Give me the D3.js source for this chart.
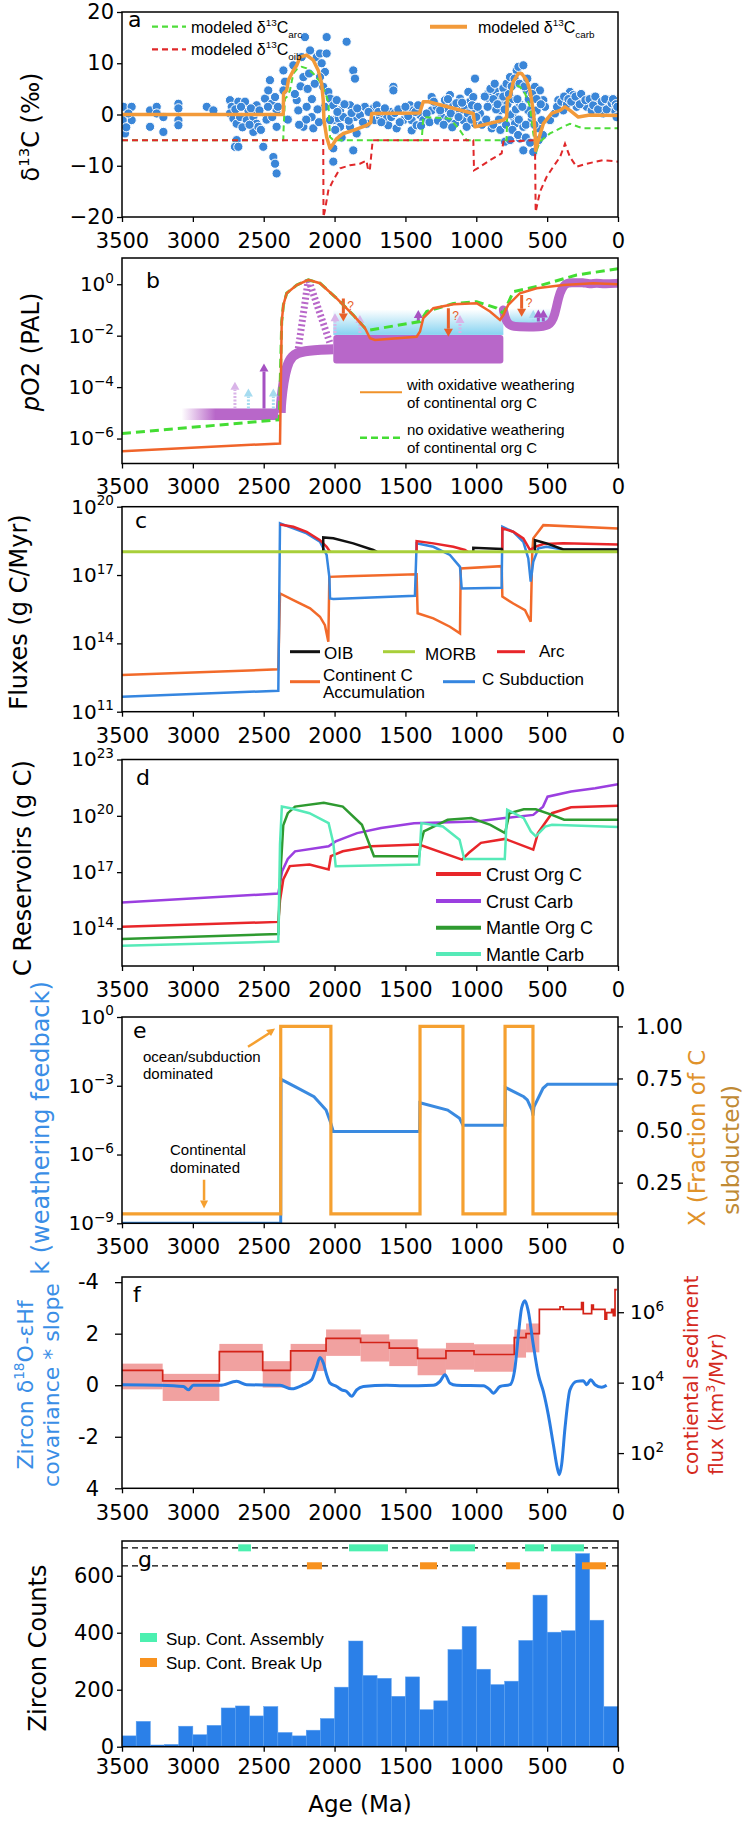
<!DOCTYPE html>
<html>
<head>
<meta charset="utf-8">
<title>Carbon cycle - 7 panels</title>
<script src="https://cdnjs.cloudflare.com/ajax/libs/d3/7.8.5/d3.min.js"></script>
<style>
  body { margin: 0; background: #fff; }
  svg text { font-family: "DejaVu Sans", sans-serif; }
  .tick text { font-size: 21px; fill: #000; }
  .logax .tick text { font-size: 20px; }
  .tick line { stroke: #000; stroke-width: 1.3; }
  .domain { display: none; }
  .leg { font-family: "Liberation Sans", Arial, sans-serif; }
</style>
</head>
<body>
<svg id="fig" width="743" height="1822"></svg>
<script>
// ---------------- data ----------------
var xTicks = [3500, 3000, 2500, 2000, 1500, 1000, 500, 0];

// a: measured d13C carb [age Ma, permil]
var d13cObs = [
 [3490,1.5],[3432,1.5],[3432,-1.1],[3495,-1.1],[3479,-3.7],[3455,0.2],[3470,-2.5],[3302,0.8],[3302,-2.4],[3255,1.5],
 [3255,0.2],[3208,-0.5],[3208,-3.4],[3102,2.1],[3102,1.2],[3102,-1.1],[3102,-2.1],[2902,1.5],[2855,0.8],[2738,2.8],
 [2726,1.5],[2738,0.2],[2714,-0.8],[2691,-1.8],[2691,-5],[2703,-6.3],[2679,-6.3],[2679,2.5],[2632,2.5],[2608,0.8],
 [2667,-0.5],[2620,-1.1],[2573,-0.5],[2550,1.8],[2561,0.5],[2550,-1.8],[2573,-3.4],[2538,-2.4],[2503,-6.3],[2491,3.1],
 [2456,6.7],[2468,4.7],[2444,2.1],[2420,3.4],[2409,0.8],[2409,-2.4],[2432,-8.3],[2420,-9.6],[2409,-11.5],[2361,8.6],
 [2350,6.4],[2361,4.7],[2291,9.6],[2267,2.8],[2256,0.8],[2232,11.2],[2209,15.1],[2220,7.3],[2220,-2.4],[2197,1.5],
 [2173,12.5],[2162,-0.5],[2150,-2.7],[2126,11.2],[2103,11.9],[2091,10],[2056,15.1],[2056,11.9],[2068,8.3],[2103,7.3],
 [2080,5.4],[2044,4.4],[2032,3.1],[2068,1.5],[2009,1.8],[1985,2.8],[1961,0.8],[2009,-1.1],[1973,-0.8],[1938,-0.5],
 [1891,1.8],[1915,14.2],[1868,8.6],[1856,7],[1856,-0.5],[1821,-0.1],[1786,1.5],[2009,-6.6],[2009,-9.2],[2032,-1.1],
 [1961,-2.4],[1891,-2.4],[1844,-3.7],[1774,-1.8],[1868,-7],[2280,4],[2240,5.5],[2190,5],[2160,3],[2140,6],
 [2120,1],[2110,-1.5],[2200,-1],[2250,-2],[2180,8],[2330,-1],
 [1726,1.2],[1703,1.8],[1715,-1.1],[1679,-0.5],[1656,0.8],[1632,-0.8],[1609,0.5],[1621,-2.1],[1585,5.4],[1585,4.7],
 [1562,-2.7],[1527,0.8],[1515,-1.1],[1491,0.2],[1468,1.8],[1456,-1.1],[1456,-3.1],[1444,0.8],[1421,-2.1],[1397,-0.1],
 [1374,-1.1],[1315,3.4],[1315,0.8],[1280,1.5],[1244,-0.5],[1221,2.8],[1209,1.2],[1197,-0.8],[1186,3.8],[1162,1.8],
 [1150,-1.8],[1138,0.2],[1115,3.1],[1115,0.8],[1091,-1.1],[1080,1.5],[1068,-2.4],[1056,4.4],[1044,2.5],[1021,3.4],
 [1021,0.8],[1009,7],[1009,-1.8],[974,0.2],[891,-2.7],[915,4.1],[903,2.8],[891,1.8],[868,4.7],[844,3.4],
 [833,0.8],[821,2.1],[809,5.1],[786,6],[797,-5.3],[762,-5],[762,7.3],[739,-0.5],[715,8.6],[727,-1.8],
 [703,9.3],[692,-4.7],[668,9.6],[668,-2.4],[668,-7],[645,4.7],[633,0.8],[621,2.8],[609,-1.1],[598,-7.3],
 [586,5.4],[574,0.8],[562,-2.7],[551,4.7],[539,-1.1],[527,2.8],[515,1.5],[480,-1.1],[445,0.2],[421,2.8],
 [386,0.8],[339,4.4],[315,3.8],[292,1.5],[245,3.1],[221,1.5],[186,0.8],[150,2.8],[127,1.5],[104,0.2],
 [68,2.8],[57,1.5],[21,0.8],[10,-0.5],[880,3],[860,1],[840,-1],[780,2],[760,0],[740,3],
 [720,1],[700,-1],[690,2],[650,-2],[630,3],[610,0],
 [1690,0.5],[1670,-1.5],[1645,1.2],[1600,-0.5],[1575,0.3],[1550,1],[1540,-1.5],[1500,1.5],[1480,-0.3],[1430,0.5],
 [1410,1.8],[1390,-2.2],[1350,0.2],[1330,-1.5],[1300,2.5],[1270,-1.2],[1255,0.8],[1230,-2],[1200,3],[1180,0.2],
 [1170,-2.5],[1140,2.2],[1125,-0.5],[1100,2.3],[1060,0.2],[1035,-1],[1030,1.8],[1000,-0.5],[990,1.5],[960,-2],
 [940,3.5],[930,-1],[920,1.5],[900,5],[880,-2],[870,6],[850,2],[830,-3],[810,3.5],[800,1],
 [790,-2],[770,4],[750,5.5],[745,-3],[730,7],[710,3],[705,-4],[695,6],[675,1.5],[660,5.5],
 [650,-4.5],[640,7],[620,-5.5],[605,4],[590,-2],[575,3],[560,-5],[545,2],[530,-4],[430,1.5],
 [400,2.5],[380,3.5],[360,2],[350,3],[330,2.5],[300,3.5],[270,2],[260,4],[230,2.8],[200,3],
 [175,1.8],[160,3.5],[140,1],[115,2.5],[90,3],[80,1],[45,2.2],[35,3],[15,2],[5,1.5],
 [1995,-3],[1980,0.5],[1950,-4.5],[1930,2],[1900,-1.2],[1880,0.3],[1840,1.2],[1800,-1.5],[1760,0.5],
 [2700,1],[2660,1.5],[2650,-2.5],[2600,-2],[2590,1.2],[2530,0.8],[2520,-3],[2480,-1],[2470,1.5],[2440,-0.5],[2400,1.5]
];
var carbModel = [[3500,0],[2362,0],[2360,4.1],[2350,4.4],[2338,4.7],[2326,6.7],[2315,7.3],[2291,8.6],[2267,9.6],[2244,11.2],
 [2197,11.6],[2150,10.6],[2115,8.6],[2091,6],[2080,2.8],[2075,-1.1],[2056,-4.4],[2032,-6.6],[2009,-5.7],[1985,-4.7],
 [1938,-3.7],[1868,-3.1],[1774,-2.1],[1745,-1.6],[1738,0.2],[1400,0.3],[1374,2.5],[1338,2.5],[1021,0.2],[1009,-2.4],
 [990,-2.3],[809,-1.1],[786,-0.5],[781,3.1],[762,3.4],[739,6.4],[703,8],[680,8],[645,6.7],[621,4.7],
 [598,0.8],[586,-3.1],[581,-7],[562,-5],[527,-1.8],[468,0.2],[409,0.8],[374,1.5],[339,0.8],[280,-0.5],
 [198,-0.1],[0,-0.2]];
var arcModel = [[3500,-5],[2362,-5],[2360,-3],[2350,3.1],[2338,3.4],[2315,4.7],[2291,8],[2267,8.8],[2232,9.3],[2197,9],
 [2150,8],[2103,6.4],[2068,4.4],[2044,2.5],[2032,-4.4],[2009,-5],[1385,-5],[1374,-0.5],[1186,-0.8],[1115,-3.1],
 [1068,-5],[786,-5],[781,1.5],[757,4.7],[715,5.7],[692,5.4],[656,4.1],[621,1.5],[598,-3.7],[574,-7],
 [551,-5.3],[480,-3.7],[409,-2.7],[339,-1.8],[280,-2.4],[245,-2.7],[0,-2.7]];
var oibModel = [[3500,-5],[2080,-5],[2078,-20],[2068,-18.7],[2044,-14.8],[2009,-12.8],[1961,-10.5],[1891,-9.9],[1821,-9.6],[1775,-9],
 [1762,-11],[1750,-10.5],[1731,-5],[1021,-5],[1016,-10.9],[974,-10.2],[903,-8.9],[821,-7.6],[809,-5.3],[586,-5],
 [581,-19],[551,-15.1],[504,-12.2],[457,-10.2],[409,-8.3],[374,-5.7],[339,-8.3],[292,-10.2],[221,-9.6],[104,-8.9],[0,-9.2]];

// b: pO2, log10 PAL
var o2WithOx = [[3500,-6.49],[2385,-6.19],[2373,-1.45],[2361,-0.8],[2338,-0.35],[2267,-0.03],[2185,0.17],[2103,0.04],[1985,-0.55],[1868,-1.2],
 [1785,-1.71],[1750,-2.1],[1715,-2.17],[1421,-2.04],[1397,-1.84],[1374,-1.32],[1303,-0.93],[1162,-0.78],[997,-0.74],[903,-1.06],
 [833,-1.39],[809,-1.2],[774,-0.8],[692,-0.35],[574,-0.16],[386,-0.03],[174,0.04],[0,0]];
var o2NoOx = [[3500,-5.8],[2390,-5.27],[2373,-1.45],[2361,-0.8],[2338,-0.35],[2267,-0.03],[2185,0.17],[2103,0.04],[1985,-0.55],[1868,-1.2],
 [1785,-1.71],[1750,-1.78],[1397,-1.45],[1350,-1.06],[1162,-0.75],[997,-0.68],[856,-0.93],[809,-1.13],[739,-0.29],[574,-0.09],[292,0.36],[0,0.6]];
var o2EarlyBand = [3080, 2397, -5.28, -4.83];
var o2MidBox = [2009, 809, -3.08, -1.97];
var o2BlueZones = [[2009, 809, -1.97, -0.98], [763, 456, -1.62, -0.93]];
var o2RiseBand = [[2380,-5.0],[2378,-4.6],[2361,-3.8],[2338,-3.2],[2303,-2.78],[2232,-2.58],[2009,-2.53]];
var o2LateBand = [[809,-1.0],[790,-1.45],[760,-1.62],[700,-1.66],[600,-1.66],[480,-1.65],[445,-1.2],[420,-0.5],[397,-0.16],[362,0.08],
 [300,0.04],[250,0.08],[200,0.0],[150,0.06],[100,0.0],[0,0.04]];
var o2Wedge = [[2256,-2.5],[2185,0.2],[2032,-2.3]];
var o2ArrowsPale = [[2703,-4.83,-3.79],[1997,-1.9,-1.13],[1821,-1.9,-1.2],[1115,-1.9,-1.2]];
var o2ArrowsBlue = [[2608,-4.83,-4.05],[2432,-4.83,-4.05],[598,-1.45,-1.0]];
var o2ArrowsPurple = [[2498,-4.83,-3.08],[1409,-1.45,-1.0],[562,-1.45,-0.98],[527,-1.45,-0.98]];
var o2ArrowsDown = [[1938,-0.55,-1.45],[1197,-0.93,-2.04],[680,-0.42,-1.26]];

// c: fluxes, log10 g C/Myr (null = gap)
var fluxContinent = [[3500,12.61],[2397,12.86],[2385,16.19],[2291,15.9],[2173,15.54],[2103,15.17],[2068,14.8],[2044,14.07],[2037,16.92],[1915,16.95],
 [1421,17.03],[1414,15.32],[1303,15.1],[1186,14.73],[1115,14.44],[1110,17.29],[821,17.39],[816,16.05],[739,15.75],[656,15.46],
 [616,14.95],[605,18.0],[598,18.61],[527,19.19],[0,19.04]];
var fluxSubduction = [[3500,11.66],[2397,11.92],[2385,19.27],[2291,19.05],[2197,18.83],[2103,18.46],[2056,17.88],[2037,16.92],[2032,15.97],[2009,15.95],
 [1433,16.09],[1421,18.39],[1303,18.24],[1186,17.88],[1115,17.36],[1103,16.41],[821,16.44],[816,19.12],[739,18.9],[668,18.46],
 [633,17.73],[616,16.71],[598,17.58],[562,18.17],[504,18.24],[386,18.12],[0,18.12]];
var fluxArc = [[2385,19.22],[2291,19.12],[2197,18.9],[2103,18.53],[2056,18.24],[2032,18.02],[2000,null],
 [1421,18.02],[1421,18.49],[1303,18.39],[1162,18.24],[1080,18.1],[1060,18.02],[1000,null],
 [816,18.02],[816,19.05],[739,18.9],[668,18.61],[621,18.1],[586,18.24],[527,18.36],[386,18.39],[0,18.34]];
var fluxOIB = [[2080,18.02],[2080,18.65],[2009,18.61],[1868,18.39],[1727,18.1],[1700,18.02],[1500,null],
 [1021,18.02],[1021,18.2],[821,18.14],[816,18.02],[700,null],
 [586,18.02],[586,18.53],[504,18.39],[386,18.12],[0,18.12]];
var fluxMORB = [[3500,18.02],[0,18.02]];

// d: reservoirs, log10 g C
var crustCarb = [[3500,15.38],[2397,15.86],[2385,16.4],[2370,17.05],[2330,17.7],[2279,18.11],[2042,18.38],[1992,18.64],[1841,19.08],[1672,19.35],
 [1439,19.61],[1002,19.7],[799,19.88],[598,20.05],[529,20.49],[497,21.02],[331,21.29],[161,21.47],[0,21.68]];
var crustOrg = [[3500,14.09],[2397,14.35],[2385,15.5],[2362,16.61],[2316,17.32],[2177,17.41],[2042,17.14],[2026,17.85],[1942,18.11],[1740,18.38],
 [1404,18.47],[1101,17.67],[1052,18.03],[967,18.56],[797,18.77],[598,18.2],[565,19.08],[466,20.14],[331,20.46],[0,20.53]];
var mantleOrg = [[3500,13.44],[2397,13.7],[2385,16.5],[2362,19.5],[2330,20.14],[2279,20.49],[2076,20.7],[1942,20.49],[1807,19.52],[1722,17.85],
 [1404,17.85],[1390,18.6],[1370,19.17],[1202,19.79],[1035,19.88],[901,19.52],[797,19.08],[766,20.14],[665,20.35],[580,20.35],
 [466,20.05],[380,19.79],[0,19.79]];
var mantleCarb = [[3500,13.08],[2397,13.3],[2385,18.5],[2372,20.49],[2311,20.4],[2177,20.14],[2042,19.61],[2009,18.56],[1992,17.32],[1404,17.41],
 [1387,19.61],[1236,19.43],[1118,18.73],[1085,17.7],[799,17.7],[782,20.32],[665,19.88],[615,19.17],[580,18.91],[514,19.43],[466,19.52],[0,19.4]];

// e: weathering feedback k (log10) and fraction subducted
var kFeedback = [[3500,-9],[2380,-9],[2378,-2.72],[2279,-3.04],[2145,-3.48],[2060,-4.06],[2026,-4.64],[2009,-5.0],[1400,-5.0],[1398,-3.74],
 [1202,-4.06],[1118,-4.42],[1094,-4.72],[797,-4.72],[795,-3.07],[665,-3.48],[640,-3.62],[607,-4.06],[600,-4.3],[593,-3.92],
 [529,-3.11],[497,-2.93],[0,-2.93]];
var fracSubducted = [[3500,0.1],[2380,1],[2026,0.1],[1397,1],[1094,0.1],[797,1],[600,0.1],[0,0.1]];

// f: zircon covariance slope and continental sediment flux (log10 km3/Myr)
var covSlope = [[3500,0.02],[3232,0],[3067,-0.05],[3032,-0.18],[2997,0],[2808,0],[2691,0.15],[2620,0.02],[2385,0],[2303,-0.14],
 [2220,0.02],[2162,0.21],[2126,0.73],[2103,1.08],[2079,0.86],[2056,0.41],[2032,0.08],[1985,-0.05],[1950,-0.18],[1915,-0.24],
 [1879,-0.43],[1844,-0.18],[1797,-0.05],[1632,0],[1515,-0.02],[1303,0],[1256,0.15],[1221,0.41],[1186,0.08],[1139,0],
 [950,-0.02],[903,-0.18],[880,-0.31],[833,-0.05],[762,0.02],[727,0.67],[703,1.96],[680,3.0],[656,3.28],[633,2.87],
 [598,1.58],[562,0.41],[527,-0.24],[492,-1.14],[456,-2.31],[428,-3.22],[414,-3.47],[398,-3.09],[374,-1.66],[339,-0.18],
 [292,0.15],[245,0.17],[221,0.02],[193,0.21],[162,0.02],[115,-0.08],[80,0]];
var sedFluxSteps = [[3500,4.35],[3213,4.05],[2813,4.88],[2507,4.35],[2310,4.9],[2060,5.26],[1816,5.14],[1614,4.98],[1414,4.69],[1214,4.9],
 [1016,4.8],[732,5.28],[649,5.39],[555,6.08],[409,6.15],[386,6.08],[257,6.27],[245,5.96],[186,6.2],[174,6.08],
 [92,5.8],[80,5.99],[45,6.08],[33,5.9],[21,6.64],[8,6.64]];
var sedBandEdges = [3500,3213,2813,2507,2310,2060,1816,1614,1414,1214,1016,732,649,555];
var sedBandHi = [4.54,4.25,5.1,4.61,5.1,5.51,5.37,5.23,4.97,5.13,5.09,5.51,5.68];
var sedBandLo = [3.81,3.48,4.33,3.86,4.33,4.76,4.6,4.47,4.21,4.37,4.31,4.71,4.86];
var fLeftTicks = [4, 2, 0, -2, -4];
var fLeftTickLabels = ["-4", "2", "0", "-2", "4"];

// g: zircon counts, 100 Myr bins from 3500-3400 down to 100-0
var zirconCounts = [38,89,6,8,72,42,75,136,143,108,141,50,38,58,99,209,371,250,240,177,
 245,130,161,341,422,272,218,230,373,532,402,407,678,444,141];
var assemblyAges = [[2680,2590],[1898,1623],[1186,1009],[656,522],[473,240]];
var breakupAges = [[2195,2089],[1397,1277],[790,692],[254,85]];
var assemblyLevel = 698, breakupLevel = 635;

// ---------------- drawing ----------------
var svg = d3.select("#fig");
var defs = svg.append("defs");
var x = d3.scaleLinear().domain([3500, 0]).range([122, 618]);
var P = {a:[12,217], b:[258,463.5], c:[506.7,711.7], d:[759.5,966], e:[1017,1223.3], f:[1277,1488.3], g:[1541,1746.7]};
var clipN = 0;

function panel(key) {
  var top = P[key][0], bottom = P[key][1];
  var id = "clip" + (clipN++);
  defs.append("clipPath").attr("id", id).append("rect")
    .attr("x", 122).attr("y", top).attr("width", 496).attr("height", bottom - top);
  var g = svg.append("g");
  return { plot: g.append("g").attr("clip-path", "url(#" + id + ")"), ax: g.append("g"), top: top, bottom: bottom };
}
function finish(p, pad) {
  p.ax.append("g").attr("transform", "translate(0," + p.bottom + ")")
    .call(d3.axisBottom(x).tickValues(xTicks).tickSize(5).tickPadding(pad).tickFormat(d3.format("d")));
  p.ax.append("rect").attr("x", 122).attr("y", p.top).attr("width", 496).attr("height", p.bottom - p.top)
    .attr("fill", "none").attr("stroke", "#000").attr("stroke-width", 1.5);
}
function powLabels(sel) {
  sel.attr("class", "logax");
  sel.selectAll(".tick text").each(function(d) {
    var e = Math.round(Math.log10(d));
    var t = d3.select(this).text("10");
    t.append("tspan").attr("dy", "-0.62em").attr("font-size", "0.68em").text(String(e).replace("-", "\u2212"));
  });
}
function letter(txt, lx, ly) {
  svg.append("text").attr("x", lx).attr("y", ly).attr("font-size", 22).text(txt);
}
// rotated label made of parts [text, "n"|"sup"|"sub"]
function vlabel(parts, cx, cy, size, color, anchor) {
  var t = svg.append("text").attr("transform", "translate(" + cx + "," + cy + ") rotate(-90)")
    .attr("text-anchor", anchor || "middle").attr("dy", "0.36em").attr("font-size", size).attr("fill", color || "#000");
  rich(t, parts);
  return t;
}
function rich(t, parts) {
  var off = 0;
  parts.forEach(function(p) {
    var target = p[1] === "sup" ? -0.42 : p[1] === "sub" ? 0.3 : 0;
    var s = t.append("tspan").text(p[0]);
    var fs = p[1] === "n" ? 1 : 0.62;
    if (p[1] !== "n") s.attr("font-size", (fs * 100) + "%");
    var shift = target - off;
    if (shift !== 0) s.attr("dy", (shift / fs) + "em");
    off = target;
    if (p[2]) s.attr("font-style", p[2]);
  });
}
function legText(parts, lx, ly, size, anchor) {
  var t = svg.append("text").attr("class", "leg").attr("x", lx).attr("y", ly).attr("font-size", size)
    .attr("text-anchor", anchor || "start");
  rich(t, parts);
  return t;
}
function legLine(x1, x2, ly, color, w, dash) {
  svg.append("line").attr("x1", x1).attr("x2", x2).attr("y1", ly).attr("y2", ly)
    .attr("stroke", color).attr("stroke-width", w).attr("stroke-dasharray", dash || null);
}

// ----- panel a -----
var pa = panel("a");
var ya = d3.scaleLinear().domain([-20, 20]).range([217, 12]);
var lineA = d3.line().x(function(d) { return x(d[0]); }).y(function(d) { return ya(d[1]); });
pa.plot.selectAll("circle").data(d13cObs).join("circle")
  .attr("cx", function(d) { return x(d[0]); }).attr("cy", function(d) { return ya(d[1]); })
  .attr("r", 4.6).attr("fill", "#3a86d8").attr("stroke", "#fff").attr("stroke-width", 1);
pa.plot.append("path").attr("d", lineA(arcModel)).attr("fill", "none").attr("stroke", "#4fdd3a").attr("stroke-width", 2).attr("stroke-dasharray", "6,4");
pa.plot.append("path").attr("d", lineA(oibModel)).attr("fill", "none").attr("stroke", "#e0282a").attr("stroke-width", 2).attr("stroke-dasharray", "6,4");
pa.plot.append("path").attr("d", lineA(carbModel)).attr("fill", "none").attr("stroke", "#f29a3a").attr("stroke-width", 3.5).attr("stroke-linejoin", "round");
pa.ax.append("g").attr("transform", "translate(122,0)")
  .call(d3.axisLeft(ya).tickValues([20, 10, 0, -10, -20]).tickSize(5).tickPadding(3));
finish(pa, 11);
letter("a", 128, 27);
legLine(152, 186, 26.7, "#4fdd3a", 2.2, "6,4");
legText([["modeled \u03b4", "n"], ["13", "sup"], ["C", "n"], ["arc", "sub"]], 191, 33, 16);
legLine(152, 186, 49.3, "#e0282a", 2.2, "6,4");
legText([["modeled \u03b4", "n"], ["13", "sup"], ["C", "n"], ["oib", "sub"]], 191, 55, 16);
legLine(430, 467, 26.7, "#f29a3a", 4);
legText([["modeled \u03b4", "n"], ["13", "sup"], ["C", "n"], ["carb", "sub"]], 478, 33, 16);
vlabel([["\u03b4", "n"], ["13", "sup"], ["C (\u2030)", "n"]], 30, 127, 24);

// ----- panel b -----
var pb = panel("b");
var yb = d3.scaleLog().domain([Math.pow(10, -6.97), Math.pow(10, 1.02)]).range([463.5, 258]);
function yL(v) { return yb(Math.pow(10, v)); }
var lineB = d3.line().x(function(d) { return x(d[0]); }).y(function(d) { return yL(d[1]); });
var gBlue = defs.append("linearGradient").attr("id", "fadeBlue").attr("x1", 0).attr("y1", 1).attr("x2", 0).attr("y2", 0);
gBlue.append("stop").attr("offset", 0).attr("stop-color", "#7fd0f0").attr("stop-opacity", 0.95);
gBlue.append("stop").attr("offset", 1).attr("stop-color", "#7fd0f0").attr("stop-opacity", 0);
var gPurp = defs.append("linearGradient").attr("id", "fadePurple");
gPurp.append("stop").attr("offset", 0).attr("stop-color", "#b867c9").attr("stop-opacity", 0);
gPurp.append("stop").attr("offset", 0.35).attr("stop-color", "#b867c9").attr("stop-opacity", 1);
pb.plot.selectAll("rect.blue").data(o2BlueZones).join("rect").attr("class", "blue")
  .attr("x", function(d) { return x(d[0]); }).attr("width", function(d) { return x(d[1]) - x(d[0]); })
  .attr("y", function(d) { return yL(d[3]); }).attr("height", function(d) { return yL(d[2]) - yL(d[3]); })
  .attr("fill", "url(#fadeBlue)");
pb.plot.append("rect").attr("x", x(o2EarlyBand[0])).attr("width", x(o2EarlyBand[1]) - x(o2EarlyBand[0]))
  .attr("y", yL(o2EarlyBand[3])).attr("height", yL(o2EarlyBand[2]) - yL(o2EarlyBand[3])).attr("fill", "url(#fadePurple)");
pb.plot.append("rect").attr("x", x(o2MidBox[0])).attr("width", x(o2MidBox[1]) - x(o2MidBox[0]))
  .attr("y", yL(o2MidBox[3])).attr("height", yL(o2MidBox[2]) - yL(o2MidBox[3])).attr("rx", 3).attr("fill", "#b867c9");
var smoothB = d3.line().curve(d3.curveBasis).x(function(d) { return x(d[0]); }).y(function(d) { return yL(d[1]); });
pb.plot.append("path").attr("d", smoothB(o2RiseBand)).attr("fill", "none").attr("stroke", "#b867c9").attr("stroke-width", 10);
pb.plot.append("path").attr("d", smoothB(o2LateBand)).attr("fill", "none").attr("stroke", "#b867c9").attr("stroke-width", 9).attr("stroke-linecap", "round");
pb.plot.append("path").attr("d", lineB(o2Wedge)).attr("fill", "none").attr("stroke", "#b867c9").attr("stroke-width", 7).attr("stroke-dasharray", "2,2.5");
function arrowB(list, color, dashed) {
  list.forEach(function(a) {
    var ax = x(a[0]), y0 = yL(a[1]), y1 = yL(a[2]);
    var dir = y1 < y0 ? 1 : -1, head = 8;
    pb.plot.append("line").attr("x1", ax).attr("x2", ax).attr("y1", y0).attr("y2", y1 + dir * head)
      .attr("stroke", color).attr("stroke-width", 3).attr("stroke-dasharray", dashed ? "2,1.5" : null);
    pb.plot.append("path").attr("d", "M" + (ax - 4.5) + "," + (y1 + dir * head) + "L" + (ax + 4.5) + "," + (y1 + dir * head) + "L" + ax + "," + y1 + "Z")
      .attr("fill", color);
  });
}
arrowB(o2ArrowsPale, "#d9b4e8", true);
arrowB(o2ArrowsBlue, "#a6dcf0", true);
arrowB(o2ArrowsPurple, "#a551c2", false);
arrowB(o2ArrowsDown, "#e8602a", false);
o2ArrowsDown.forEach(function(a) {
  pb.plot.append("text").attr("x", x(a[0]) + 4).attr("y", yL(a[1]) + 12).attr("class", "leg")
    .attr("font-size", 12).attr("fill", "#e8602a").text("?");
});
pb.plot.append("path").attr("d", lineB(o2NoOx)).attr("fill", "none").attr("stroke", "#44dd33").attr("stroke-width", 3).attr("stroke-dasharray", "9,5");
pb.plot.append("path").attr("d", lineB(o2WithOx)).attr("fill", "none").attr("stroke", "#f0642a").attr("stroke-width", 2.5);
pb.ax.append("g").attr("transform", "translate(122,0)")
  .call(d3.axisLeft(yb).tickValues([1, 1e-2, 1e-4, 1e-6]).tickSize(5).tickPadding(3)).call(powLabels);
finish(pb, 11);
letter("b", 146, 288);
legLine(360, 402, 392.3, "#f0922a", 2);
legText([["with oxidative weathering", "n"]], 407, 390, 15);
legText([["of continental org C", "n"]], 407, 408, 15);
legLine(360, 402, 437.7, "#44dd33", 2.5, "7,4");
legText([["no oxidative weathering", "n"]], 407, 435, 15);
legText([["of continental org C", "n"]], 407, 453, 15);
vlabel([["p", "n", "italic"], ["O2 (PAL)", "n"]], 30, 352, 24);

// ----- panel c -----
var pc = panel("c");
var yc = d3.scaleLog().domain([1e11, 1e20]).range([711.7, 506.7]);
var lineC = d3.line().defined(function(d) { return d[1] !== null; })
  .x(function(d) { return x(d[0]); }).y(function(d) { return yc(Math.pow(10, d[1])); });
[[fluxContinent, "#f26a2a"], [fluxSubduction, "#3586e0"], [fluxArc, "#e8262a"], [fluxOIB, "#111"], [fluxMORB, "#a8cf3a"]]
  .forEach(function(s) {
    pc.plot.append("path").attr("d", lineC(s[0])).attr("fill", "none").attr("stroke", s[1])
      .attr("stroke-width", s[1] === "#a8cf3a" ? 3 : 2.5);
  });
pc.ax.append("g").attr("transform", "translate(122,0)")
  .call(d3.axisLeft(yc).tickValues([1e11, 1e14, 1e17, 1e20]).tickSize(5).tickPadding(3)).call(powLabels);
finish(pc, 11);
letter("c", 135, 528);
legLine(290, 320, 651.7, "#111", 3);
legText([["OIB", "n"]], 324, 659, 17);
legLine(383, 415, 651.7, "#a8cf3a", 3);
legText([["MORB", "n"]], 425, 660, 17);
legLine(497, 525, 651.7, "#e8262a", 3);
legText([["Arc", "n"]], 539, 657, 17);
legLine(290, 320, 681.7, "#f26a2a", 3);
legText([["Continent C", "n"]], 323, 681, 17);
legText([["Accumulation", "n"]], 323, 698, 17);
legLine(443, 475, 681.7, "#3586e0", 3);
legText([["C Subduction", "n"]], 482, 685, 17);
vlabel([["Fluxes (g C/Myr)", "n"]], 18, 612, 24);

// ----- panel d -----
var pd = panel("d");
var yd = d3.scaleLog().domain([1e12, 1e23]).range([966, 759.5]);
var lineD = d3.line().x(function(d) { return x(d[0]); }).y(function(d) { return yd(Math.pow(10, d[1])); });
var dSeries = [[crustCarb, "#9b3fe0", "Crust Carb"], [crustOrg, "#e8262a", "Crust Org C"], [mantleOrg, "#2e9a30", "Mantle Org C"], [mantleCarb, "#56eab8", "Mantle Carb"]];
dSeries.forEach(function(s) {
  pd.plot.append("path").attr("d", lineD(s[0])).attr("fill", "none").attr("stroke", s[1]).attr("stroke-width", 2.5);
});
pd.ax.append("g").attr("transform", "translate(122,0)")
  .call(d3.axisLeft(yd).tickValues([1e14, 1e17, 1e20, 1e23]).tickSize(5).tickPadding(3)).call(powLabels);
finish(pd, 11);
letter("d", 136, 785);
[[dSeries[1], 874], [dSeries[0], 901], [dSeries[2], 927.7], [dSeries[3], 954]].forEach(function(l) {
  legLine(436, 481, l[1], l[0][1], 4);
  legText([[l[0][2], "n"]], 486, l[1] + 6.5, 18);
});
vlabel([["C Reservoirs (g C)", "n"]], 22, 868, 24);

// ----- panel e -----
var pe = panel("e");
var ye = d3.scaleLog().domain([1e-9, 1]).range([1223.3, 1017]);
var ye2 = d3.scaleLinear().domain([0.055, 1.045]).range([1223.3, 1017]);
pe.plot.append("path").attr("d", d3.line().x(function(d) { return x(d[0]); }).y(function(d) { return ye(Math.pow(10, d[1])); })(kFeedback))
  .attr("fill", "none").attr("stroke", "#3a8ae0").attr("stroke-width", 3);
pe.plot.append("path").attr("d", d3.line().curve(d3.curveStepAfter).x(function(d) { return x(d[0]); }).y(function(d) { return ye2(d[1]); })(fracSubducted))
  .attr("fill", "none").attr("stroke", "#f5a030").attr("stroke-width", 3.2);
pe.ax.append("g").attr("transform", "translate(122,0)")
  .call(d3.axisLeft(ye).tickValues([1e-9, 1e-6, 1e-3, 1]).tickSize(5).tickPadding(3)).call(powLabels);
pe.ax.append("g").attr("transform", "translate(618,0)")
  .call(d3.axisRight(ye2).tickValues([0.25, 0.5, 0.75, 1]).tickSize(5).tickPadding(13).tickFormat(d3.format(".2f")));
finish(pe, 11);
letter("e", 133, 1038);
legText([["ocean/subduction", "n"]], 143, 1062, 15);
legText([["dominated", "n"]], 143, 1079, 15);
legText([["Continental", "n"]], 170, 1155, 15);
legText([["dominated", "n"]], 170, 1173, 15);
svg.append("line").attr("x1", x(2611)).attr("y1", ye(Math.pow(10, -1.3))).attr("x2", x(2440)).attr("y2", ye(Math.pow(10, -0.62)))
  .attr("stroke", "#f5a030").attr("stroke-width", 2.5);
svg.append("path").attr("d", "M" + x(2420) + "," + ye(Math.pow(10, -0.5)) + "l-9,1.5l5,6z").attr("fill", "#f5a030");
svg.append("line").attr("x1", x(2921)).attr("x2", x(2921)).attr("y1", ye(Math.pow(10, -7.1))).attr("y2", ye(Math.pow(10, -8.0)))
  .attr("stroke", "#f5a030").attr("stroke-width", 2.5);
svg.append("path").attr("d", "M" + (x(2921) - 4) + "," + ye(Math.pow(10, -8.0)) + "l8,0l-4,8z").attr("fill", "#f5a030");
vlabel([["k (weathering feedback)", "n"]], 40, 1128, 24, "#3a8ee6");
vlabel([["X (Fraction of C", "n"]], 697, 1138, 23, "#e0922a");
vlabel([["subducted)", "n"]], 731, 1150, 23, "#c08a34");

// ----- panel f -----
var pf = panel("f");
var yf = d3.scaleLinear().domain([-4, 4.2]).range([1488.3, 1277]);
var yf2 = d3.scaleLog().domain([1e1, 1e7]).range([1488.3, 1277]);
var bands = sedBandHi.map(function(h, i) { return { a0: sedBandEdges[i], a1: sedBandEdges[i + 1], hi: h, lo: sedBandLo[i] }; });
pf.plot.selectAll("rect.band").data(bands).join("rect").attr("class", "band")
  .attr("x", function(d) { return x(d.a0); }).attr("width", function(d) { return x(d.a1) - x(d.a0); })
  .attr("y", function(d) { return yf2(Math.pow(10, d.hi)); })
  .attr("height", function(d) { return yf2(Math.pow(10, d.lo)) - yf2(Math.pow(10, d.hi)); })
  .attr("fill", "#ee8a88").attr("fill-opacity", 0.8);
pf.plot.append("path").attr("d", d3.line().curve(d3.curveStepAfter).x(function(d) { return x(d[0]); }).y(function(d) { return yf2(Math.pow(10, d[1])); })(sedFluxSteps))
  .attr("fill", "none").attr("stroke", "#d42318").attr("stroke-width", 1.7);
pf.plot.append("path").attr("d", d3.line().curve(d3.curveMonotoneX).x(function(d) { return x(d[0]); }).y(function(d) { return yf(d[1]); })(covSlope))
  .attr("fill", "none").attr("stroke", "#2a7de2").attr("stroke-width", 3);
pf.ax.append("g").attr("transform", "translate(122,0)")
  .call(d3.axisLeft(yf).tickValues(fLeftTicks).tickSize(7).tickPadding(16).tickFormat(function(d, i) { return fLeftTickLabels[i]; }));
pf.ax.append("g").attr("transform", "translate(618,0)")
  .call(d3.axisRight(yf2).tickValues([1e2, 1e4, 1e6]).tickSize(6).tickPadding(6)).call(powLabels);
finish(pf, 12);
letter("f", 133, 1302);
vlabel([["Zircon \u03b4", "n"], ["18", "sup"], ["O-\u03b5Hf", "n"]], 25, 1385, 22, "#3a8ee6");
vlabel([["covariance * slope", "n"]], 51, 1385, 22, "#3a8ee6");
vlabel([["contiental sediment", "n"]], 691, 1475, 20, "#d42a1e", "start");
vlabel([["flux (km", "n"], ["3", "sup"], ["/Myr)", "n"]], 716, 1475, 20, "#d42a1e", "start");

// ----- panel g -----
var pg = panel("g");
var yg = d3.scaleLinear().domain([0, 722]).range([1746.7, 1541]);
[assemblyLevel, breakupLevel].forEach(function(v) {
  pg.plot.append("line").attr("x1", 122).attr("x2", 618).attr("y1", yg(v)).attr("y2", yg(v))
    .attr("stroke", "#000").attr("stroke-width", 1.3).attr("stroke-dasharray", "6,4");
});
pg.plot.selectAll("rect.bar").data(zirconCounts).join("rect").attr("class", "bar")
  .attr("x", function(d, i) { return x(3500 - i * 100); })
  .attr("width", function(d, i) { return x(3400 - i * 100) - x(3500 - i * 100); })
  .attr("y", function(d) { return yg(d); }).attr("height", function(d) { return yg(0) - yg(d); })
  .attr("fill", "#2b80e8").attr("stroke", "#5a9ff0").attr("stroke-width", 0.5);
pg.plot.selectAll("rect.asm").data(assemblyAges).join("rect").attr("class", "asm")
  .attr("x", function(d) { return x(d[0]); }).attr("width", function(d) { return x(d[1]) - x(d[0]); })
  .attr("y", yg(assemblyLevel) - 3.5).attr("height", 7).attr("fill", "#4cf0b0");
pg.plot.selectAll("rect.brk").data(breakupAges).join("rect").attr("class", "brk")
  .attr("x", function(d) { return x(d[0]); }).attr("width", function(d) { return x(d[1]) - x(d[0]); })
  .attr("y", yg(breakupLevel) - 3.5).attr("height", 7).attr("fill", "#f8921e");
pg.ax.append("g").attr("transform", "translate(122,0)")
  .call(d3.axisLeft(yg).tickValues([0, 200, 400, 600]).tickSize(5).tickPadding(3));
finish(pg, 7);
letter("g", 138, 1567);
svg.append("rect").attr("x", 140).attr("y", 1633).attr("width", 17).attr("height", 9).attr("fill", "#4cf0b0");
legText([["Sup. Cont. Assembly", "n"]], 166, 1645, 17);
svg.append("rect").attr("x", 140).attr("y", 1658).attr("width", 17).attr("height", 9).attr("fill", "#f8921e");
legText([["Sup. Cont. Break Up", "n"]], 166, 1669, 17);
vlabel([["Zircon Counts", "n"]], 37, 1648, 24);
svg.append("text").attr("x", 360).attr("y", 1812).attr("text-anchor", "middle").attr("font-size", 23).text("Age (Ma)");
</script>
</body>
</html>
